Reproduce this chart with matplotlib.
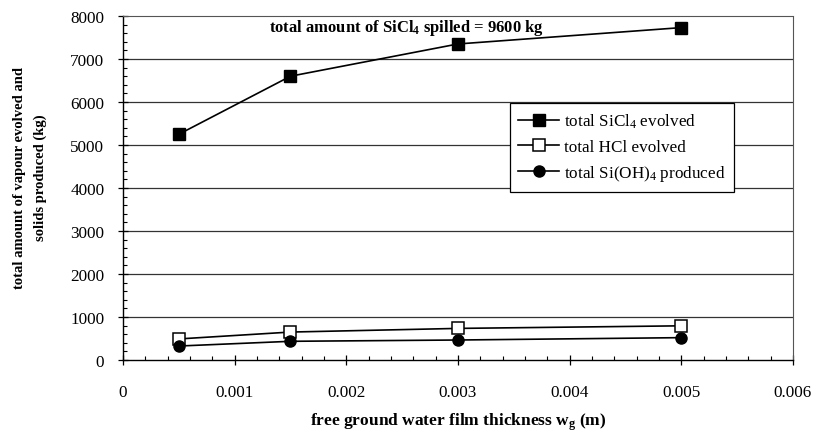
import matplotlib
matplotlib.use('Agg')
import matplotlib.pyplot as plt
from matplotlib.ticker import MultipleLocator

plt.rcParams['font.family'] = ['Liberation Serif', 'DejaVu Serif']
plt.rcParams['mathtext.fontset'] = 'custom'
plt.rcParams['mathtext.rm'] = 'Liberation Serif'
plt.rcParams['mathtext.it'] = 'Liberation Serif:italic'
plt.rcParams['mathtext.bf'] = 'Liberation Serif:bold'

# film thickness (m) and amounts (kg)
thickness = [0.0005, 0.0015, 0.003, 0.005]
sicl4_evolved = [5250, 6600, 7350, 7730]
hcl_evolved = [490, 650, 735, 795]
sioh4_produced = [325, 435, 465, 520]

fig = plt.figure(figsize=(8.13, 4.35), dpi=100)
ax = fig.add_axes([0.1513, 0.1701, 0.824, 0.7908])

ax.plot(thickness, sicl4_evolved, color='black', lw=1.2, marker='s', ms=8,
        mfc='black', mec='black', label=r'total SiCl$_4$ evolved', zorder=3)
ax.plot(thickness, hcl_evolved, color='black', lw=1.2, marker='s', ms=8,
        mfc='white', mec='black', mew=1.1, label='total HCl evolved', zorder=3)
ax.plot(thickness, sioh4_produced, color='black', lw=1.2, marker='o', ms=8,
        mfc='black', mec='black', label=r'total Si(OH)$_4$ produced', zorder=3)

ax.set_xlim(0, 0.006)
ax.set_ylim(0, 8000)
ax.xaxis.set_minor_locator(MultipleLocator(0.0002))
ax.yaxis.set_major_locator(MultipleLocator(1000))
ax.yaxis.set_minor_locator(MultipleLocator(200))
ax.set_xticks([0, 0.001, 0.002, 0.003, 0.004, 0.005, 0.006])
ax.set_xticklabels(['0', '0.001', '0.002', '0.003', '0.004', '0.005', '0.006'])

for y in range(1000, 8000, 1000):
    ax.axhline(y, color='#333333', lw=0.9, zorder=1)

ax.tick_params(axis='both', which='major', direction='inout', length=7,
               width=0.9, labelsize=12.3)
ax.tick_params(axis='both', which='minor', direction='in', length=3, width=0.8)
ax.tick_params(axis='x', which='major', pad=14)
ax.tick_params(axis='y', which='major', pad=10)

ax.spines['top'].set_linestyle((0, (1, 1)))
ax.spines['right'].set_linestyle((0, (1, 1)))
ax.spines['top'].set_color('#555555')
ax.spines['right'].set_color('#555555')
ax.spines['left'].set_linewidth(1.0)
ax.spines['bottom'].set_linewidth(1.0)

ax.set_xlabel(r'free ground water film thickness w$_{\mathbf{g}}$ (m)',
              fontsize=12.5, fontweight='bold', labelpad=7)
fig.text(30 / 813, 1 - 178 / 435,
         'total amount of vapour evolved and\nsolids produced (kg)',
         rotation=90, ha='center', va='center', fontsize=10.5,
         fontweight='bold', linespacing=1.7)

ax.text(0.00254, 7750, r'total amount of SiCl$_\mathbf{4}$ spilled = 9600 kg',
        ha='center', va='center', fontsize=12, fontweight='bold')

leg = ax.legend(loc='upper left', bbox_to_anchor=(0.577, 0.747),
                fontsize=12.3, frameon=True, fancybox=False, framealpha=1,
                edgecolor='black', handlelength=2.4, handletextpad=0.3,
                borderpad=0.5, labelspacing=0.5, borderaxespad=0)
leg.get_frame().set_linewidth(0.9)

fig.savefig('out.png', dpi=100)
